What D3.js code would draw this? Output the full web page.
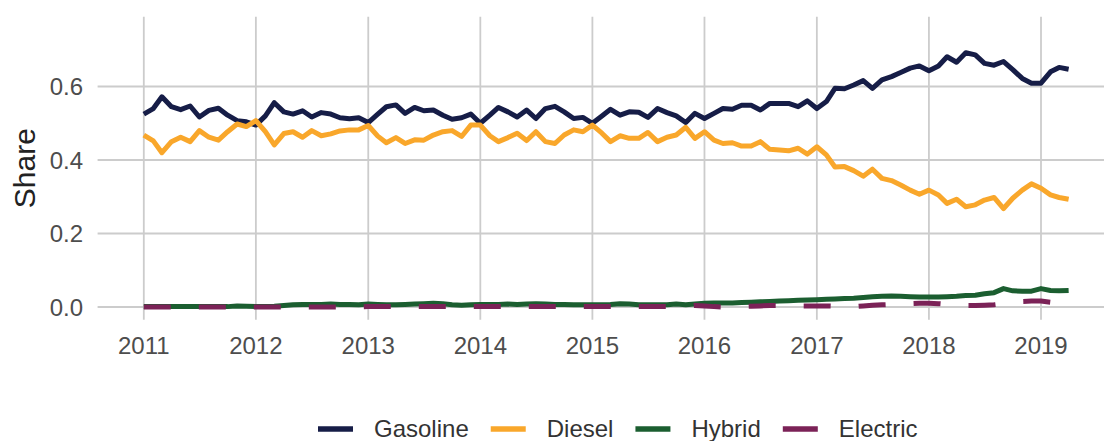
<!DOCTYPE html>
<html>
<head>
<meta charset="utf-8">
<script src="https://cdn.jsdelivr.net/npm/d3@7"></script>
<style>
  body { margin: 0; background: #fff; }
  svg { display: block; font-family: 'Liberation Sans', Arial, sans-serif; }
  .grid line { stroke: #cccccc; stroke-width: 1.8; }
  .tick-label { fill: #4d4d4d; font-size: 24px; }
  .legend-label { fill: #333; font-size: 24px; }
</style>
</head>
<body>
<div id="chart"></div>
<script>
// monthly shares, Jan 2011 .. Apr 2019
var seriesNames = ['Gasoline', 'Diesel', 'Hybrid', 'Electric'];
var seriesColors = ['#161d47', '#f9a72b', '#1b5e30', '#7b2257'];

var gasoline = [
  0.525, 0.540, 0.572, 0.545, 0.537, 0.547, 0.517, 0.535, 0.541, 0.522, 0.507, 0.504,
  0.495, 0.520, 0.556, 0.531, 0.525, 0.534, 0.517, 0.529, 0.525, 0.515, 0.512, 0.515,
  0.502, 0.525, 0.545, 0.550, 0.527, 0.543, 0.534, 0.536, 0.522, 0.511, 0.515, 0.525,
  0.500, 0.522, 0.543, 0.531, 0.517, 0.536, 0.513, 0.540, 0.546, 0.531, 0.513, 0.516,
  0.500, 0.520, 0.538, 0.522, 0.531, 0.530, 0.516, 0.540, 0.529, 0.520, 0.502, 0.527,
  0.513, 0.527, 0.540, 0.538, 0.549, 0.549, 0.536, 0.554, 0.554, 0.554, 0.545, 0.561,
  0.540, 0.559, 0.595, 0.594, 0.604, 0.616, 0.595, 0.618, 0.627, 0.638, 0.650, 0.656,
  0.643, 0.656, 0.681, 0.666, 0.692, 0.686, 0.663, 0.658, 0.668, 0.646, 0.622, 0.609,
  0.609, 0.640, 0.652, 0.647
];

var diesel = [
  0.468, 0.452, 0.420, 0.450, 0.462, 0.450, 0.480, 0.462, 0.454, 0.477, 0.498, 0.491,
  0.507, 0.477, 0.441, 0.472, 0.477, 0.462, 0.480, 0.466, 0.471, 0.479, 0.482, 0.482,
  0.494, 0.465, 0.447, 0.461, 0.445, 0.455, 0.454, 0.468, 0.477, 0.480, 0.464, 0.495,
  0.495, 0.466, 0.450, 0.461, 0.473, 0.453, 0.477, 0.450, 0.445, 0.468, 0.482, 0.477,
  0.495, 0.473, 0.450, 0.466, 0.459, 0.459, 0.475, 0.450, 0.462, 0.468, 0.489, 0.459,
  0.477, 0.454, 0.445, 0.447, 0.438, 0.438, 0.450, 0.429, 0.427, 0.425, 0.432, 0.416,
  0.436, 0.414, 0.381, 0.382, 0.371, 0.356, 0.375, 0.350, 0.344, 0.332, 0.318, 0.307,
  0.318, 0.305, 0.282, 0.293, 0.273, 0.278, 0.291, 0.298, 0.268, 0.296, 0.318, 0.335,
  0.323, 0.305, 0.298, 0.293
];

var hybrid = [
  0.001, 0.001, 0.001, 0.001, 0.001, 0.001, 0.001, 0.001, 0.001, 0.001, 0.003, 0.002,
  0.001, 0.001, 0.002, 0.004, 0.006, 0.007, 0.007, 0.007, 0.008, 0.007, 0.007, 0.006,
  0.008, 0.007, 0.006, 0.006, 0.007, 0.008, 0.009, 0.010, 0.009, 0.006, 0.005, 0.006,
  0.007, 0.007, 0.007, 0.008, 0.007, 0.008, 0.009, 0.008, 0.007, 0.007, 0.006, 0.006,
  0.006, 0.006, 0.007, 0.009, 0.008, 0.006, 0.006, 0.006, 0.006, 0.008, 0.006, 0.008,
  0.010, 0.011, 0.011, 0.011, 0.012, 0.013, 0.014, 0.015, 0.016, 0.017, 0.018, 0.019,
  0.020, 0.021, 0.022, 0.023, 0.024, 0.026, 0.028, 0.029, 0.030, 0.029, 0.028, 0.027,
  0.027, 0.027, 0.028, 0.029, 0.031, 0.032, 0.036, 0.039, 0.050, 0.044, 0.043, 0.043,
  0.050, 0.045, 0.044, 0.045
];

var electric = [
  0.000, 0.000, 0.000, 0.000, 0.000, 0.000, 0.000, 0.000, 0.000, 0.000, 0.000, 0.000,
  0.000, 0.000, 0.000, 0.000, 0.000, 0.000, 0.000, 0.000, 0.000, 0.000, 0.000, 0.000,
  0.001, 0.001, 0.001, 0.001, 0.001, 0.001, 0.001, 0.001, 0.001, 0.001, 0.001, 0.001,
  0.001, 0.001, 0.001, 0.001, 0.001, 0.001, 0.001, 0.001, 0.001, 0.001, 0.001, 0.001,
  0.001, 0.001, 0.001, 0.001, 0.001, 0.001, 0.001, 0.001, 0.001, 0.001, 0.002, 0.004,
  0.003, 0.001, 0.000, 0.001, 0.001, 0.002, 0.003, 0.004, 0.004, 0.004, 0.003, 0.003,
  0.003, 0.003, 0.002, 0.001, 0.001, 0.003, 0.005, 0.006, 0.007, 0.008, 0.009, 0.010,
  0.010, 0.009, 0.007, 0.005, 0.004, 0.004, 0.005, 0.006, 0.009, 0.012, 0.015, 0.016,
  0.016, 0.013, 0.014, 0.015
];

var yTicks = [0, 0.2, 0.4, 0.6];
var xTickYears = [2011, 2012, 2013, 2014, 2015, 2016, 2017, 2018, 2019];

var months = d3.timeMonth.range(new Date(2011, 0, 1), new Date(2019, 4, 1));
var seriesValues = [gasoline, diesel, hybrid, electric];

var width = 1104, height = 441;
var panel = { left: 97.6, right: 1104, top: 16.7, bottom: 319.7 };

var svg = d3.select('#chart').append('svg')
    .attr('width', width)
    .attr('height', height);

var x = d3.scaleTime()
    .domain([new Date(2011, 0, 1), new Date(2019, 0, 1)])
    .range([143.8, 1041]);

var y = d3.scaleLinear()
    .domain([-0.0346, 0.79])
    .range([panel.bottom, panel.top]);

var xTicks = xTickYears.map(function (yr) { return new Date(yr, 0, 1); });

// grid
var grid = svg.append('g').attr('class', 'grid');

grid.selectAll('.hgrid')
    .data(yTicks)
    .enter()
    .append('line')
    .attr('x1', panel.left)
    .attr('x2', panel.right)
    .attr('y1', function (d) { return y(d); })
    .attr('y2', function (d) { return y(d); });

grid.selectAll('.vgrid')
    .data(xTicks)
    .enter()
    .append('line')
    .attr('x1', function (d) { return x(d); })
    .attr('x2', function (d) { return x(d); })
    .attr('y1', panel.top)
    .attr('y2', panel.bottom);

// tick labels
svg.append('g')
    .selectAll('text')
    .data(yTicks)
    .enter()
    .append('text')
    .attr('class', 'tick-label')
    .attr('x', 83)
    .attr('y', function (d) { return y(d); })
    .attr('dy', '0.36em')
    .attr('text-anchor', 'end')
    .text(function (d) { return d3.format('.1f')(d); });

svg.append('g')
    .selectAll('text')
    .data(xTicks)
    .enter()
    .append('text')
    .attr('class', 'tick-label')
    .attr('x', function (d) { return x(d); })
    .attr('y', 354)
    .attr('text-anchor', 'middle')
    .text(function (d) { return d3.timeFormat('%Y')(d); });

svg.append('text')
    .attr('transform', 'translate(35,' + ((panel.top + panel.bottom) / 2) + ') rotate(-90)')
    .attr('text-anchor', 'middle')
    .style('font-size', '30px')
    .style('fill', '#222')
    .text('Share');

// lines
var line = d3.line()
    .x(function (d) { return x(d.date); })
    .y(function (d) { return y(d.value); });

seriesNames.forEach(function (name, i) {
  var pts = months.map(function (m, j) {
    return { date: m, value: seriesValues[i][j] };
  });
  svg.append('path')
      .datum(pts)
      .attr('class', 'series ' + name.toLowerCase())
      .attr('d', line)
      .style('fill', 'none')
      .style('stroke', seriesColors[i])
      .style('stroke-width', 5)
      .style('stroke-linejoin', 'round')
      .style('stroke-dasharray', name === 'Electric' ? '27,28' : null);
});

// legend
var legend = svg.append('g').attr('class', 'legend');
var lx = 318;
seriesNames.forEach(function (name, i) {
  legend.append('line')
      .attr('x1', lx)
      .attr('x2', lx + 35)
      .attr('y1', 429)
      .attr('y2', 429)
      .style('stroke', seriesColors[i])
      .style('stroke-width', 5.5);
  var t = legend.append('text')
      .attr('class', 'legend-label')
      .attr('x', lx + 56)
      .attr('y', 437)
      .text(name);
  lx = lx + 56 + t.node().getComputedTextLength() + 22;
});
</script>
</body>
</html>
